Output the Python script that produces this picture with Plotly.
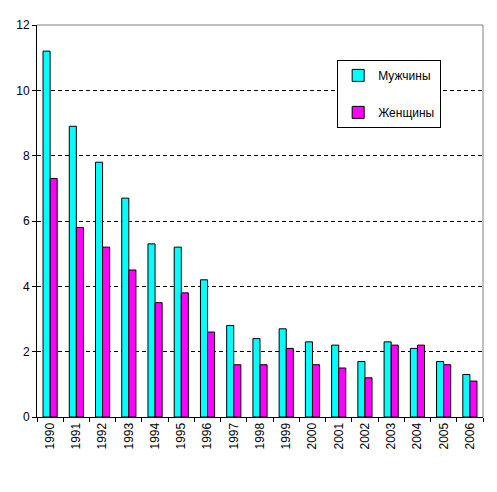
import plotly.graph_objects as go

years = ["1990", "1991", "1992", "1993", "1994", "1995", "1996", "1997", "1998",
         "1999", "2000", "2001", "2002", "2003", "2004", "2005", "2006"]
men = [11.2, 8.9, 7.8, 6.7, 5.3, 5.2, 4.2, 2.8, 2.4, 2.7, 2.3, 2.2, 1.7, 2.3, 2.1, 1.7, 1.3]
women = [7.3, 5.8, 5.2, 4.5, 3.5, 3.8, 2.6, 1.6, 1.6, 2.1, 1.6, 1.5, 1.2, 2.2, 2.2, 1.6, 1.1]
y_ticks = [0, 2, 4, 6, 8, 10, 12]

fig = go.Figure()
fig.add_trace(go.Bar(x=years, y=men, name="Мужчины", legendgroup="m",
                     marker=dict(color="#00FFFF", line=dict(color="black", width=1))))
fig.add_trace(go.Bar(x=years, y=women, name="Женщины", legendgroup="f",
                     marker=dict(color="#FF00FF", line=dict(color="black", width=1))))

# page body has an 8px default margin, so the figure is shifted by 8px
fig.update_layout(
    width=489, height=484,
    margin=dict(l=29, r=14, t=17, b=75, autoexpand=False),
    paper_bgcolor="white", plot_bgcolor="white",
    font=dict(family="Liberation Sans, Arial, sans-serif", size=12, color="black"),
    barmode="group", bargap=0.46, bargroupgap=0,
    showlegend=True,
    legend=dict(x=0.673, y=0.911, xanchor="left", yanchor="top",
                bordercolor="black", borderwidth=1, bgcolor="white",
                tracegroupgap=18, font=dict(size=12),
                itemwidth=30),
    xaxis=dict(type="category", showline=True, linecolor="black", linewidth=1,
               ticks="outside", tickson="boundaries", ticklen=4, tickcolor="black",
               tickangle=-90, showgrid=False, tickfont=dict(size=12), automargin=False),
    yaxis=dict(range=[0, 12], tickvals=y_ticks, showline=True, linecolor="black",
               linewidth=1, ticks="outside", ticklen=4, tickcolor="black",
               showgrid=True, gridcolor="black", griddash="4px,3px", gridwidth=1,
               zeroline=False, tickfont=dict(size=12), automargin=False),
    shapes=[
        dict(type="line", xref="paper", yref="paper", x0=0, x1=1, y0=1, y1=1,
             line=dict(color="#808080", width=1)),
        dict(type="line", xref="paper", yref="paper", x0=1, x1=1, y0=0, y1=1,
             line=dict(color="#808080", width=1)),
    ],
)

fig.write_html("out.html")
